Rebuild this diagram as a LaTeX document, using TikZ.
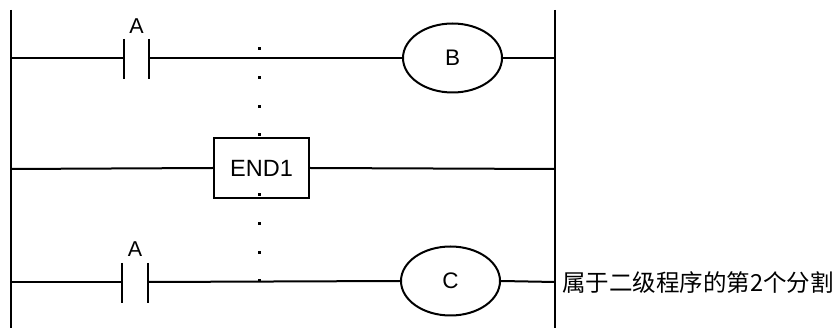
\documentclass[tikz,border=0pt]{standalone}
\usepackage{fontspec}
\setmainfont{Liberation Sans}
\newfontfamily\cjk{Noto Sans CJK SC}
\usetikzlibrary{shapes.geometric}
\begin{document}
\begin{tikzpicture}[x=1pt,y=-1pt,
  wire/.style={line width=2pt},
  coil/.style={draw,ellipse,line width=2pt,minimum width=99pt,minimum height=69pt,inner sep=0pt,font=\fontsize{22.5}{24}\selectfont},
  endbox/.style={draw,rectangle,line width=2pt,minimum width=95pt,minimum height=60pt,inner sep=0pt,fill=white,font=\fontsize{23.5}{25}\selectfont},
  lbl/.style={font=\fontsize{21.5}{23}\selectfont,inner sep=0pt},
  dotmark/.style={fill=black,minimum size=3pt,inner sep=0pt,draw=none}]
\useasboundingbox (0,0) rectangle (838,328);
% rails
\coordinate (Lt) at (11,10); \coordinate (Lb) at (11,328);
\coordinate (Rt) at (555,10); \coordinate (Rb) at (555,328);
\draw[wire] (Lt) -- (Lb);
\draw[wire] (Rt) -- (Rb);
% rung 1
\coordinate (L1) at (11,58); \coordinate (R1) at (555,58);
\coordinate (a1l) at (124,58); \coordinate (a1r) at (149,58);
\node[coil] (B) at (452.5,58) {B};
\draw[wire] (L1) -- (a1l);
\draw[wire] (a1l) ++(0,-19) -- ++(0,40);
\draw[wire] (a1r) ++(0,-19) -- ++(0,40);
\draw[wire] (a1r) -- (B.west);
\draw[wire] (B.east) -- (R1);
\node[lbl] (A1) at (136.5,26) {A};
% rung 2
\coordinate (L2) at (11,169); \coordinate (R2) at (555,169);
\node[endbox] (E) at (261.5,168) {END1};
\draw[wire] (L2) -- (E.west);
\draw[wire] (E.east) -- (R2);
% rung 3
\coordinate (L3) at (11,282); \coordinate (R3) at (555,282);
\coordinate (a3l) at (122,282); \coordinate (a3r) at (148,282);
\node[coil] (C) at (450.5,281) {C};
\draw[wire] (L3) -- (a3l);
\draw[wire] (a3l) ++(0,-19) -- ++(0,40);
\draw[wire] (a3r) ++(0,-19) -- ++(0,40);
\draw[wire] (a3r) -- (C.west);
\draw[wire] (C.east) -- (R3);
\node[lbl] (A3) at (135,249) {A};
% dots
\foreach \y/\n in {49/1,78/2,107/3,135/4,195/6,224/7,253/8,281/9}
  \node[dotmark] (d\n) at (259,\y) {};
% note
\node[anchor=west,inner sep=0pt,font=\fontsize{23.5}{25}\selectfont] (note) at (562,283) {\cjk 属于二级程序的第2个分割};
\end{tikzpicture}
\end{document}
